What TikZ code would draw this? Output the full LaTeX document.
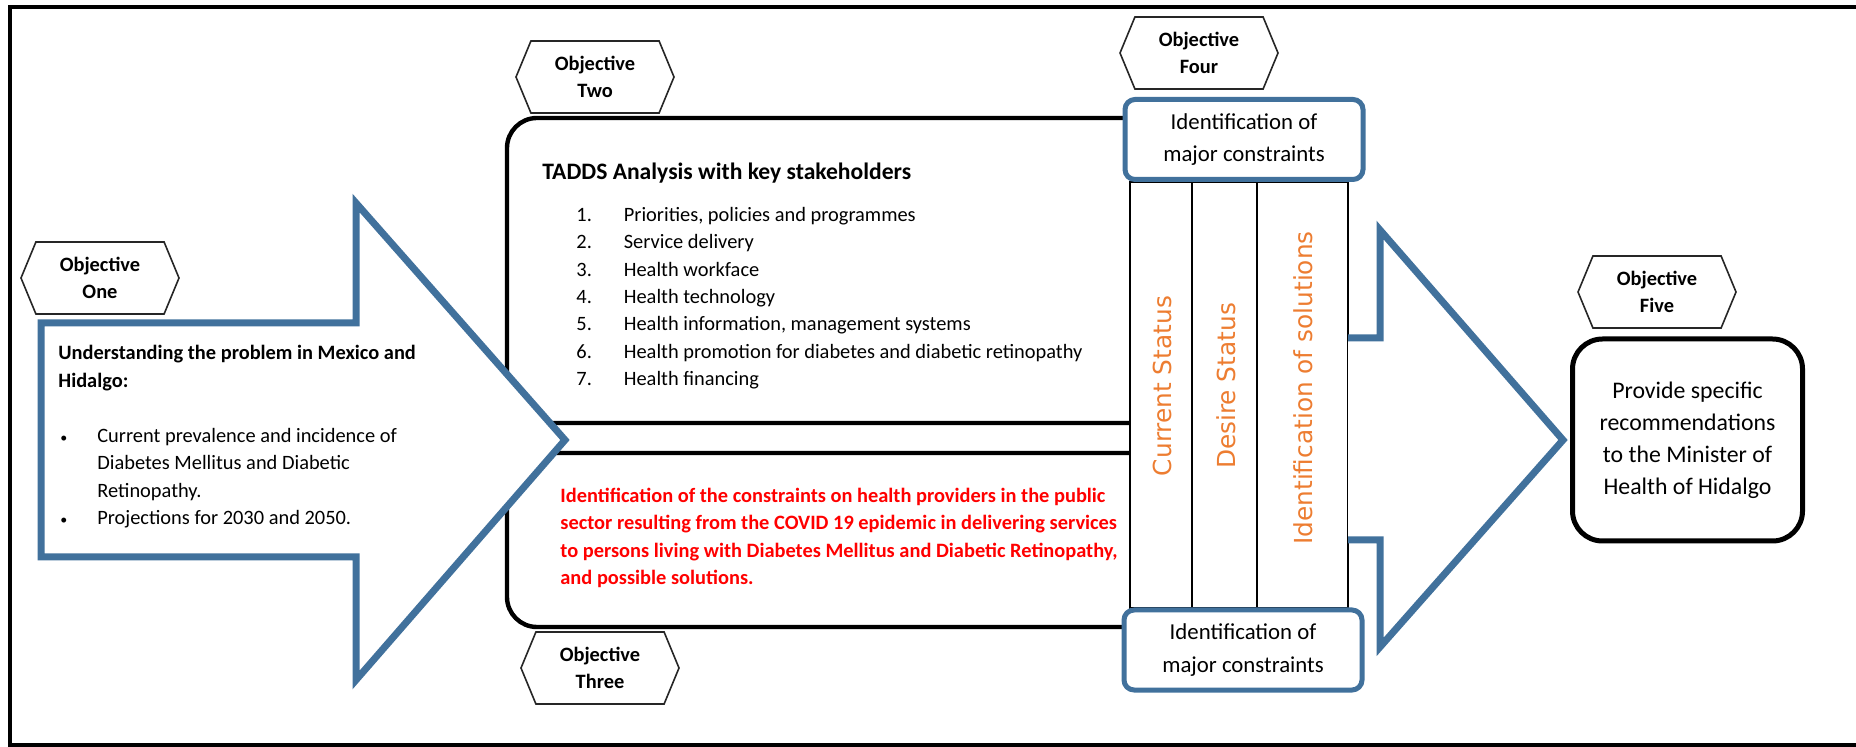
\documentclass[tikz,border=0pt]{standalone}
\usepackage{fontspec}
\setmainfont{Carlito}
\newfontfamily\widesans{DejaVu Sans}
\usepackage{xcolor}
\usepackage{tikz}
\usetikzlibrary{shapes.symbols}

\definecolor{arrowblue}{RGB}{65,113,156}
\definecolor{statusorange}{RGB}{237,125,49}
\definecolor{alertred}{RGB}{255,0,0}

\newcommand{\smallbullet}{{\fontsize{7}{7}\selectfont\textbullet}}

\tikzset{
  objhex/.style={draw=black!85, line width=0.8pt, fill=white, shape=signal,
    signal to=east and west, signal pointer angle=135,
    minimum width=79pt, minimum height=36pt, inner sep=0pt, align=center,
    font=\bfseries\fontsize{10.2}{13.8}\selectfont},
  bigarrow/.style={draw=arrowblue, line width=3.5pt, fill=white, miter limit=20},
  panel/.style={draw=black, line width=2.2pt, fill=white, rounded corners=15pt},
  identbox/.style={draw=arrowblue, line width=2.5pt, fill=white, rounded corners=5pt,
    minimum width=119pt, minimum height=40pt, align=center,
    font=\fontsize{11.4}{16.3}\selectfont},
  statuscol/.style={rotate=90, text=statusorange, font=\widesans\fontsize{12.4}{14}\selectfont},
  plain/.style={anchor=west, align=left, inner sep=0pt, font=\fontsize{10.2}{13.7}\selectfont}
}

\begin{document}
\begin{tikzpicture}[x=0.5pt,y=-0.5pt]
\useasboundingbox (0,0) rectangle (1856,747);
% outer frame
\draw[line width=1.6pt] (1870,7) -- (10,7) -- (10,745) -- (1870,745);

% objective two and three panels
\filldraw[panel] (1130,423) -- (507,423) -- (507,118) -- (1130,118);
\filldraw[panel] (1130,453) -- (507,453) -- (507,627) -- (1130,627);

% objective one arrow
\filldraw[bigarrow] (41,323) -- (356,323) -- (356,203) -- (565,440) -- (356,680) -- (356,557) -- (41,557) -- cycle;

\node[plain, font=\bfseries\fontsize{10.2}{13.7}\selectfont] (probhead) at (58,368)
  {Understanding the problem in Mexico and\\Hidalgo:};
\node[plain] (problist) at (60,478) {%
  \begin{tabular}{@{}l@{\hspace{15pt}}l@{}}
  \smallbullet & Current prevalence and incidence of\\
               & Diabetes Mellitus and Diabetic\\
               & Retinopathy.\\
  \smallbullet & Projections for 2030 and 2050.
  \end{tabular}};

% TADDS analysis
\node[plain, font=\bfseries\fontsize{11.8}{14}\selectfont] (taddshead) at (542,173)
  {TADDS Analysis with key stakeholders};
\node[plain] (taddslist) at (576,298) {%
  \begin{tabular}{@{}l@{\hspace{16pt}}l@{}}
  1. & Priorities, policies and programmes\\
  2. & Service delivery\\
  3. & Health workface\\
  4. & Health technology\\
  5. & Health information, management systems\\
  6. & Health promotion for diabetes and diabetic retinopathy\\
  7. & Health financing
  \end{tabular}};

% covid constraints
\node[plain, text=alertred, font=\bfseries\fontsize{10.2}{13.7}\selectfont] (covid) at (560,538)
  {Identification of the constraints on health providers in the public\\
   sector resulting from the COVID 19 epidemic in delivering services\\
   to persons living with Diabetes Mellitus and Diabetic Retinopathy,\\
   and possible solutions.};

% objective four columns
\filldraw[fill=white, line width=0.8pt] (1130,182) rectangle (1348,608);
\draw[line width=0.8pt] (1192,182) -- (1192,608);
\draw[line width=0.8pt] (1257,182) -- (1257,608);
\node[statuscol] (current) at (1162,386) {Current Status};
\node[statuscol] (desire) at (1226,386) {Desire Status};
\node[statuscol] (solutions) at (1303,388) {Identification of solutions};

\node[identbox] (identtop) at (1244,139.5) {Identification of\\major constraints};
\node[identbox] (identbot) at (1243,650) {Identification of\\major constraints};

% objective five arrow
\filldraw[bigarrow] (1348,338) -- (1380,338) -- (1380,230) -- (1563,440) -- (1380,647) -- (1380,540) -- (1348,540);

\node[draw, line width=2.5pt, rounded corners=15pt, minimum width=115pt, minimum height=101pt,
  align=center, font=\fontsize{11.9}{16}\selectfont] (recs) at (1687.5,440)
  {Provide specific\\recommendations\\to the Minister of\\Health of Hidalgo};

% objective labels
\node[objhex] (objone) at (100,278) {Objective\\One};
\node[objhex] (objtwo) at (595,77) {Objective\\Two};
\node[objhex] (objthree) at (600,668) {Objective\\Three};
\node[objhex] (objfour) at (1199,53) {Objective\\Four};
\node[objhex] (objfive) at (1657,292) {Objective\\Five};
\end{tikzpicture}
\end{document}
